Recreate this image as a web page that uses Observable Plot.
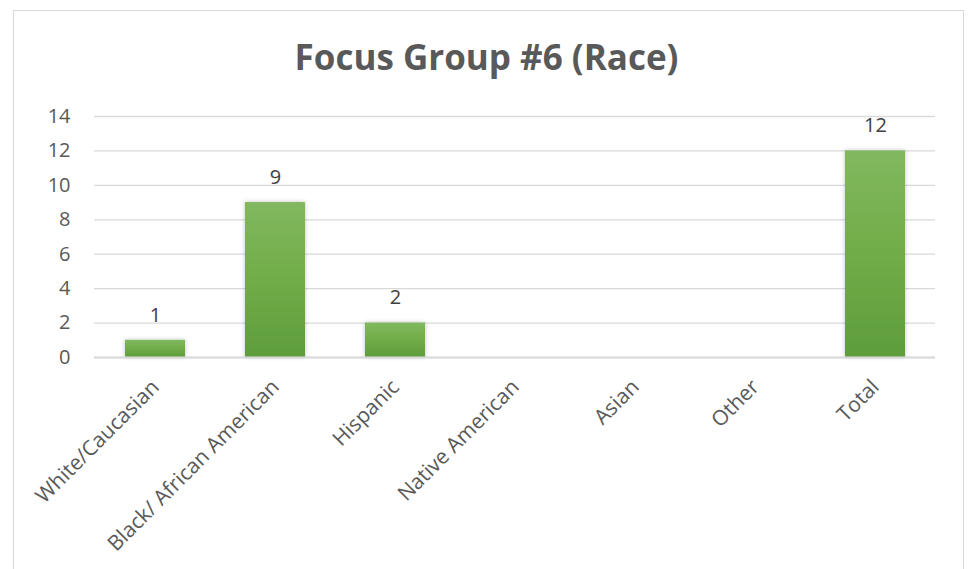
<!DOCTYPE html>
<html>
<head>
<meta charset="utf-8">
<script src="https://cdn.jsdelivr.net/npm/d3@7"></script>
<script src="https://cdn.jsdelivr.net/npm/@observablehq/plot@0.6"></script>
<style>
  html, body { margin: 0; padding: 0; background: #fff; }
  body { width: 973px; height: 569px; position: relative; overflow: hidden; font-family: "Open Sans", sans-serif; }
  #frame { position: absolute; left: 13px; top: 10px; width: 951px; height: 600px; border: 1px solid #d9d9d9; box-sizing: border-box; }
  #title { position: absolute; left: 0; width: 973px; top: 33px; text-align: center; font-family: "Open Sans", sans-serif; font-weight: 700; font-size: 35px; color: #595959; line-height: 48px; white-space: nowrap; }
  #chart { position: absolute; left: 0; top: 0; }
</style>
</head>
<body>
<div id="frame"></div>
<div id="title">Focus Group #6 (Race)</div>
<div id="chart"></div>
<script>
const categories = ["White/Caucasian", "Black/ African American", "Hispanic", "Native American", "Asian", "Other", "Total"];
const counts = [1, 9, 2, 0, 0, 0, 12];
const yTicks = [0, 2, 4, 6, 8, 10, 12, 14];

const data = categories.map((c, i) => ({category: c, count: counts[i]}));
const shown = data.filter(d => d.count > 0);

const chart = Plot.plot({
  width: 973,
  height: 569,
  marginLeft: 94,
  marginRight: 38,
  marginTop: 116,
  marginBottom: 212,
  style: {fontFamily: "'Open Sans', sans-serif", fontSize: "20px", color: "#595959", background: "transparent"},
  x: {domain: categories, paddingInner: 0.5, paddingOuter: 0.25, label: null},
  y: {domain: [0, 14], ticks: yTicks, label: null},
  marks: [
    Plot.gridY(yTicks, {stroke: "#d9d9d9", strokeOpacity: 1, strokeWidth: 1.3}),
    Plot.barY(shown, {x: "category", y: "count", fill: "url(#barGrad)"}),
    Plot.ruleY([0], {stroke: "#d9d9d9", strokeWidth: 2}),
    Plot.text(shown, {x: "category", y: "count", text: d => String(d.count), dy: -25, fill: "#404040", fontSize: 20}),
    Plot.axisY({ticks: yTicks, tickSize: 0, tickPadding: 24, fontSize: 20, fill: "#595959"}),
    Plot.axisX({tickSize: 0, tickRotate: -45, tickPadding: 26, fontSize: 21, fill: "#595959"})
  ]
});

const ns = "http://www.w3.org/2000/svg";
const defs = document.createElementNS(ns, "defs");
defs.innerHTML = `
  <linearGradient id="barGrad" x1="0" y1="0" x2="0" y2="1">
    <stop offset="0" stop-color="#81b860"/>
    <stop offset="0.5" stop-color="#70ad47"/>
    <stop offset="1" stop-color="#5f9d3c"/>
  </linearGradient>
  <filter id="barShadow" x="-20%" y="-20%" width="140%" height="140%">
    <feDropShadow dx="0" dy="0" stdDeviation="2" flood-color="#000" flood-opacity="0.25"/>
  </filter>`;
chart.insertBefore(defs, chart.firstChild);
chart.querySelectorAll("g[aria-label='bar']").forEach(g => g.setAttribute("filter", "url(#barShadow)"));
document.getElementById("chart").appendChild(chart);
</script>
</body>
</html>
